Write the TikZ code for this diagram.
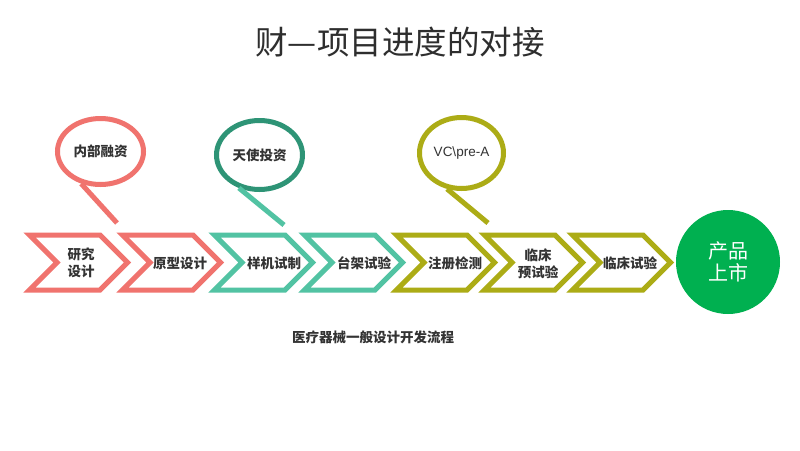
\documentclass[tikz,border=0pt]{standalone}
\usepackage{fontspec}
\newfontfamily\cjk{Noto Sans CJK SC}
\newfontfamily\latin{Liberation Sans}
\usetikzlibrary{shapes.geometric}
\definecolor{cred}{HTML}{F0736E}
\definecolor{cteal}{HTML}{52C3A3}
\definecolor{cdteal}{HTML}{2E9476}
\definecolor{colive}{RGB}{172,172,22}
\definecolor{cgreen}{HTML}{00B050}
\definecolor{ctext}{HTML}{333333}
\tikzset{
  chev/.style={line width=5pt, line join=miter},
  chevtext/.style={font=\cjk\bfseries\fontsize{13.5}{17}\selectfont, text=ctext, align=center, inner sep=0pt},
  balloon/.style={ellipse, draw, line width=5pt, inner sep=0pt, font=\cjk\bfseries\fontsize{13.5}{17}\selectfont, text=ctext},
  tail/.style={line width=5pt},
}
\newcommand{\chevpath}[2]{%
  \draw[chev, #2] (#1+4.5,235) -- (#1+75,235) -- (#1+102.5,262.5) -- (#1+75,290) -- (#1+4.5,290) -- (#1+32,262.5) -- cycle;}
\begin{document}
\begin{tikzpicture}[x=1pt,y=-1pt]
\useasboundingbox (0,0) rectangle (800,450);
\fill[white] (0,0) rectangle (800,450);
% title
\node[font=\cjk\fontsize{32.5}{36}\selectfont, text=ctext!90!black, inner sep=0pt] (title) at (400,42) {财—项目进度的对接};
% chevrons
\chevpath{25}{cred}
\chevpath{118}{cred}
\chevpath{210}{cteal}
\chevpath{300}{cteal}
\chevpath{392}{colive}
\chevpath{480}{colive}
\chevpath{568}{colive}
\node[chevtext] (c1) at (81,263) {研究\\设计};
\node[chevtext] (c2) at (180,263) {原型设计};
\node[chevtext] (c3) at (274,263) {样机试制};
\node[chevtext] (c4) at (364,263) {台架试验};
\node[chevtext] (c5) at (455,263) {注册检测};
\node[chevtext] (c6) at (538,264) {临床\\预试验};
\node[chevtext] (c7) at (630,263) {临床试验};
% product circle
\node[circle, fill=cgreen, minimum size=104pt, inner sep=0pt, text=white, align=center, font=\cjk\fontsize{20}{22}\selectfont] (prod) at (728,262) {产品\\上市};
% balloons
\node[balloon, draw=cred, minimum width=86pt, minimum height=66pt] (b1) at (100.5,151.5) {内部融资};
\node[balloon, draw=cdteal, minimum width=86pt, minimum height=69pt] (b2) at (259.5,155) {天使投资};
\node[balloon, draw=colive, minimum width=84pt, minimum height=71pt, font=\latin\fontsize{13.5}{17}\selectfont] (b3) at (461.5,153) {VC\textbackslash pre-A};
\coordinate (t1) at (117,223);
\coordinate (t2) at (284,225);
\coordinate (t3) at (488,223);
\draw[tail, cred] (b1.239) -- (t1);
\draw[tail, cteal] (b2.238) -- (t2);
\draw[tail, colive] (b3.248) -- (t3);
% subtitle
\node[chevtext] (sub) at (373,337) {医疗器械一般设计开发流程};
\end{tikzpicture}
\end{document}
